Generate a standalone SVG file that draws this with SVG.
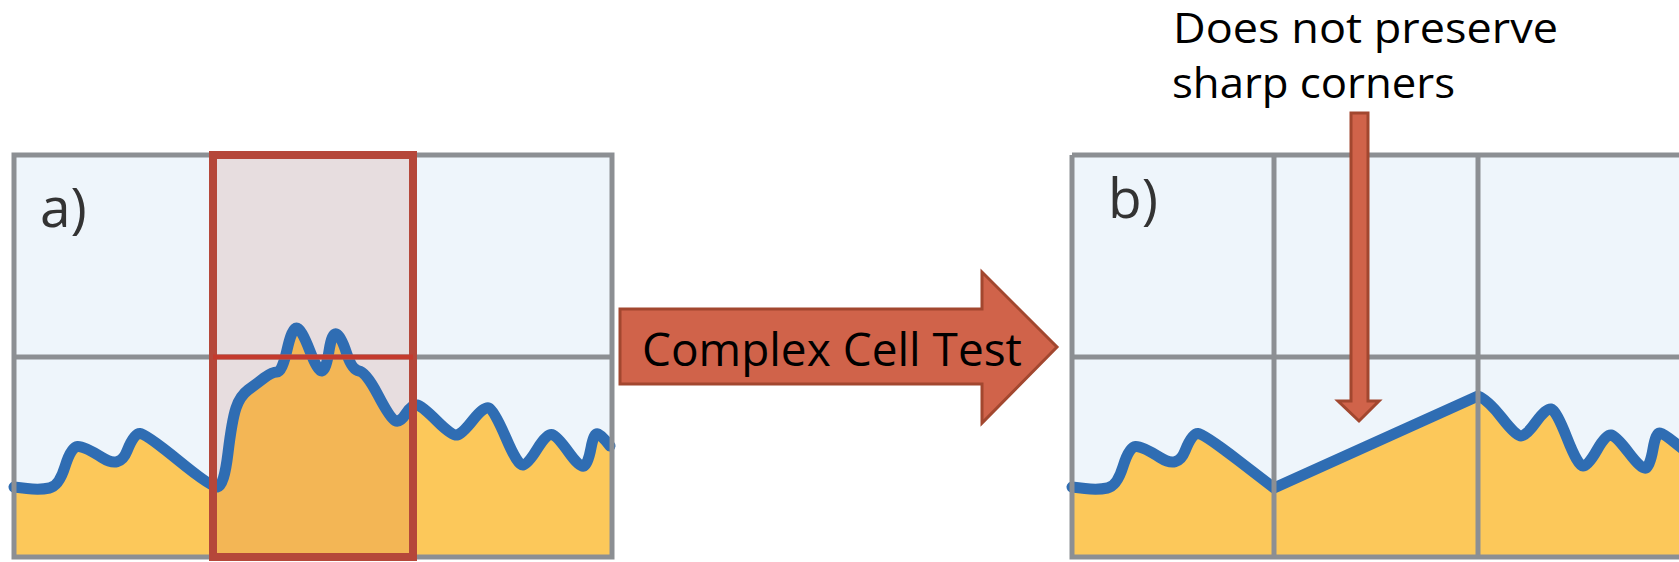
<svg xmlns="http://www.w3.org/2000/svg" width="1679" height="562" viewBox="0 0 1679 562">
<style>
.cell{fill:#eef5fb}
.grid{fill:none;stroke:#8c8f93;stroke-width:5}
.curve{fill:none;stroke:#2f6db3;stroke-width:11;stroke-linejoin:round;stroke-linecap:round}
.fillA{fill:#fcc85a}
.lbl{font-family:"Open Sans","DejaVu Sans",sans-serif;fill:#333;font-size:55px}
.txt{font-family:"Open Sans","DejaVu Sans",sans-serif;fill:#000}
.arrow{fill:#d0634a;stroke:#a2472f;stroke-width:3}
</style>
<defs>
<path id="curveA" d="M14,487 L27,488.5 Q40,490 49.5,488 Q59,486 65,466.5 Q71,447 77.5,446.5 Q84,446 102,457.5 Q120,469 127,451 Q134,433 140,433.5 Q146,434 178.5,460.5 Q211,487 217.5,487 Q224,486 228,453 Q232,420 236,408 Q240,396 248,390 Q256,384 264,378 Q272,372 277,372 Q282,372 287,350 Q292,328 296.5,328 Q301,328 309.5,350 Q318,372 322,371 Q326,370 329,351 Q332,332 336.5,334 Q341,336 346.5,353 Q352,370 359,371 Q366,372 378,395 Q390,418 395,420.5 Q400,423 406,413.5 Q412,404 417,405 Q422,406 437,421 Q452,436 457,435 Q462,434 473,420 Q484,406 489,408 Q494,410 506,438 Q518,466 523,465 Q528,464 537.5,448.5 Q547,433 552,434.5 Q557,436 568.5,452 Q580,468 584,466 Q588,464 591,448 Q594,432 598,434 Q602,436 606,441 L610,446"/>
<path id="curveB" d="M1072,487 L1085,488.5 Q1098,490 1107.5,488 Q1117,486 1123,466.5 Q1129,447 1135.5,446.5 Q1142,446 1160,457.5 Q1178,469 1185,451 Q1192,433 1198,433.5 Q1204,434 1239,461 L1274,488 L1478,396 Q1488,400 1502,418 Q1516,436 1521,436 Q1526,436 1536,422 Q1546,408 1551,409 Q1556,410 1567,438 Q1578,466 1583,466 Q1588,466 1597,450 Q1606,434 1611,435 Q1616,436 1629,453 Q1642,470 1646,468 Q1650,466 1653,449 Q1656,432 1660,433 Q1664,434 1674,442 L1684,450"/>
</defs>
<rect width="1679" height="562" fill="#fff"/>
<g id="panel-a">
<rect class="cell" x="14" y="155" width="598" height="402"/>
<path class="fillA" d="M14,487 L27,488.5 Q40,490 49.5,488 Q59,486 65,466.5 Q71,447 77.5,446.5 Q84,446 102,457.5 Q120,469 127,451 Q134,433 140,433.5 Q146,434 178.5,460.5 Q211,487 217.5,487 Q224,486 228,453 Q232,420 236,408 Q240,396 248,390 Q256,384 264,378 Q272,372 277,372 Q282,372 287,350 Q292,328 296.5,328 Q301,328 309.5,350 Q318,372 322,371 Q326,370 329,351 Q332,332 336.5,334 Q341,336 346.5,353 Q352,370 359,371 Q366,372 378,395 Q390,418 395,420.5 Q400,423 406,413.5 Q412,404 417,405 Q422,406 437,421 Q452,436 457,435 Q462,434 473,420 Q484,406 489,408 Q494,410 506,438 Q518,466 523,465 Q528,464 537.5,448.5 Q547,433 552,434.5 Q557,436 568.5,452 Q580,468 584,466 Q588,464 591,448 Q594,432 598,434 Q602,436 606,441 L612,446 L612,557 L14,557 Z"/>
<rect x="213" y="155" width="200" height="402" fill="#c0503a" opacity="0.14"/>
<use href="#curveA" class="curve"/>
<path class="grid" d="M14,155 H612 V557 H14 Z M14,357 H612 M213,155 V557 M413,155 V557"/>
<rect x="213" y="155" width="200" height="402" fill="none" stroke="#b5473a" stroke-width="8"/>
<line x1="213" y1="357" x2="413" y2="357" stroke="#c43a2d" stroke-width="5"/>
<text class="lbl" x="40" y="227">a)</text>
</g>
<g id="panel-b">
<rect class="cell" x="1072" y="155" width="607" height="402"/>
<path class="fillA" d="M1072,487 L1085,488.5 Q1098,490 1107.5,488 Q1117,486 1123,466.5 Q1129,447 1135.5,446.5 Q1142,446 1160,457.5 Q1178,469 1185,451 Q1192,433 1198,433.5 Q1204,434 1239,461 L1274,488 L1478,396 Q1488,400 1502,418 Q1516,436 1521,436 Q1526,436 1536,422 Q1546,408 1551,409 Q1556,410 1567,438 Q1578,466 1583,466 Q1588,466 1597,450 Q1606,434 1611,435 Q1616,436 1629,453 Q1642,470 1646,468 Q1650,466 1653,449 Q1656,432 1660,433 Q1664,434 1674,442 L1684,450 L1684,557 L1072,557 Z"/>
<use href="#curveB" class="curve"/>
<path class="grid" d="M1072,155 H1685 M1072,155 V557 H1685 M1072,357 H1685 M1274,155 V557 M1478,155 V557"/>
<text class="lbl" x="1108" y="218">b)</text>
</g>
<g id="complex-cell-test">
<polygon class="arrow" points="620,309 982,309 982,272 1057,347 982,423 982,384 620,384"/>
<text class="txt" x="642" y="366" font-size="46" textLength="380" lengthAdjust="spacingAndGlyphs">Complex Cell Test</text>
</g>
<g id="note">
<text class="txt" x="1173" y="43" font-size="42" textLength="385" lengthAdjust="spacingAndGlyphs">Does not preserve</text>
<text class="txt" x="1172" y="98" font-size="42" textLength="283" lengthAdjust="spacingAndGlyphs">sharp corners</text>
</g>
<g id="connectors">
<polygon class="arrow" points="1351,113 1368,113 1368,401 1379,401 1359,421 1338,401 1351,401"/>
</g>
</svg>
